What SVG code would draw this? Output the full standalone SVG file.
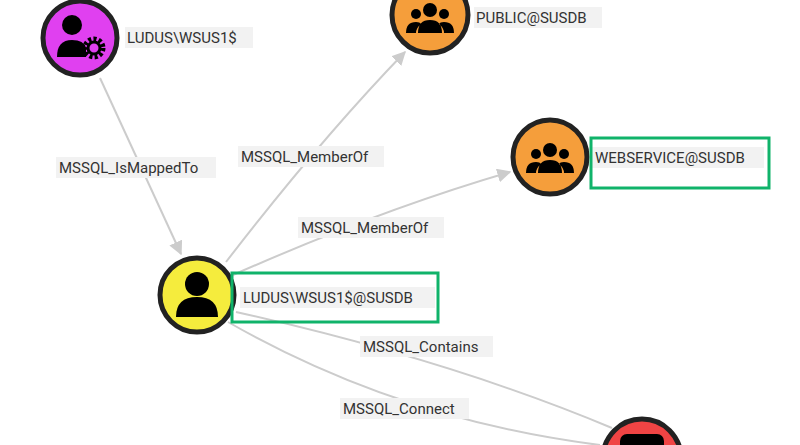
<svg xmlns="http://www.w3.org/2000/svg" width="800" height="445" viewBox="0 0 800 445">
<style>
.e{fill:none;stroke:#cccccc;stroke-width:2}
.lb{fill:#f2f2f2}
.t{font-family:Roboto,"Liberation Sans",sans-serif;font-size:15px;fill:#333}
.n{stroke:#222;stroke-width:5}
.hl{fill:none;stroke:#10b36a;stroke-width:3}
</style>
<defs><marker id="a" viewBox="0 0 10 10" refX="9" refY="5" markerWidth="7" markerHeight="7" orient="auto"><path d="M0,0L10,5L0,10z" fill="#cccccc"/></marker></defs>
<rect width="800" height="445" fill="#fff"/>
<g id="connectors">
<path class="e" d="M100,78 L181,254" marker-end="url(#a)"/>
<path class="e" d="M226,262 Q320,140 405,52" marker-end="url(#a)"/>
<path class="e" d="M233,275 Q380,210 510,172" marker-end="url(#a)"/>
<path class="e" d="M236,312 Q450,360 612,428"/>
<path class="e" d="M228,322 Q400,420 600,445"/>
<rect class="lb" x="56" y="157" width="160" height="21"/><text class="t" x="59" y="173">MSSQL_IsMappedTo</text>
<rect class="lb" x="238" y="146" width="146" height="21"/><text class="t" x="241" y="162">MSSQL_MemberOf</text>
<rect class="lb" x="298" y="217" width="146" height="21"/><text class="t" x="301" y="233">MSSQL_MemberOf</text>
<rect class="lb" x="360" y="336" width="133" height="21"/><text class="t" x="363" y="352">MSSQL_Contains</text>
<rect class="lb" x="340" y="398" width="129" height="21"/><text class="t" x="343" y="414">MSSQL_Connect</text>
</g>
<g id="wsus1">
<circle class="n" cx="80" cy="38" r="37" fill="#e040f0"/>
<circle cx="72" cy="25" r="10" fill="#000"/><path d="M57,57 Q57,40 72,40 Q84,40 86,48 L86,57z" fill="#000"/>
<circle cx="94" cy="48" r="9" fill="none" stroke="#000" stroke-width="5" stroke-dasharray="3 2.2"/><circle cx="94" cy="48" r="6" fill="none" stroke="#000" stroke-width="3"/>
<rect class="lb" x="125" y="27" width="128" height="21"/><text class="t" x="127" y="43">LUDUS\WSUS1$</text>
</g>
<g id="public">
<circle class="n" cx="430" cy="15" r="38" fill="#f59e3b"/>
<circle cx="430" cy="10" r="7" fill="#000"/><circle cx="416" cy="14" r="5" fill="#000"/><circle cx="444" cy="14" r="5" fill="#000"/>
<path d="M418,33 Q418,20 430,20 Q442,20 442,33z M406,33 Q406,22 416,22 Q420,22 421,24 Q416,28 416,33z M454,33 Q454,22 444,22 Q440,22 439,24 Q444,28 444,33z" fill="#000"/>
<rect class="lb" x="474" y="7" width="128" height="21"/><text class="t" x="476" y="23">PUBLIC@SUSDB</text>
</g>
<g id="webservice">
<circle class="n" cx="550" cy="157" r="37" fill="#f59e3b"/>
<circle cx="550" cy="150" r="7" fill="#000"/><circle cx="536" cy="154" r="5" fill="#000"/><circle cx="564" cy="154" r="5" fill="#000"/>
<path d="M538,173 Q538,160 550,160 Q562,160 562,173z M526,173 Q526,162 536,162 Q540,162 541,164 Q536,168 536,173z M574,173 Q574,162 564,162 Q560,162 559,164 Q564,168 564,173z" fill="#000"/>
<rect class="lb" x="592" y="147" width="172" height="21"/><text class="t" x="595" y="163">WEBSERVICE@SUSDB</text>
<rect class="hl" x="591" y="138" width="178" height="50"/>
</g>
<g id="susdbuser">
<circle class="n" cx="197" cy="295" r="37" fill="#f5ec3d"/>
<circle cx="197" cy="284" r="12" fill="#000"/><path d="M176,317 Q176,297 197,297 Q218,297 218,317z" fill="#000"/>
<rect class="lb" x="240" y="287" width="195" height="21"/><text class="t" x="243" y="303">LUDUS\WSUS1$@SUSDB</text>
<rect class="hl" x="232" y="273" width="206" height="49"/>
</g>
<g id="server">
<circle class="n" cx="642" cy="458" r="39" fill="#f04444"/>
<rect x="620" y="434" width="44" height="20" rx="7" fill="#000"/>
</g>
</svg>
